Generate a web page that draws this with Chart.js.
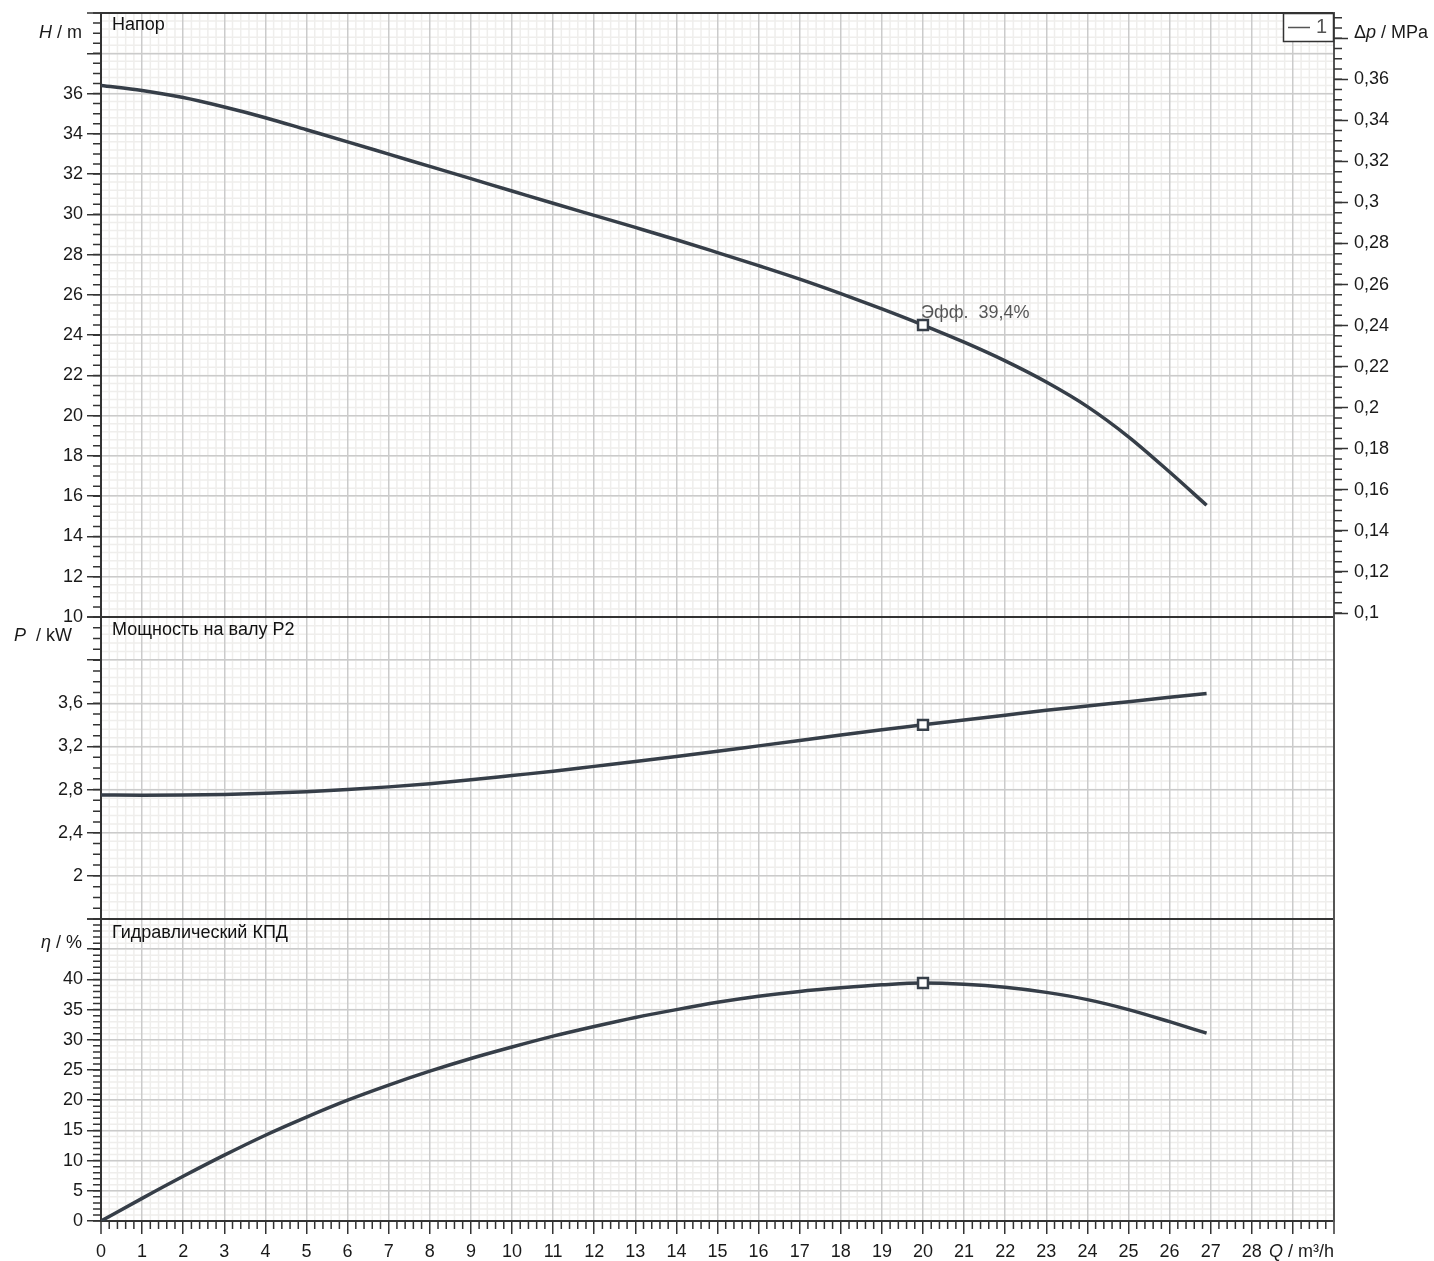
<!DOCTYPE html>
<html><head><meta charset="utf-8">
<script src="https://cdn.jsdelivr.net/npm/chart.js@4.4.0/dist/chart.umd.min.js"></script>
<style>html,body{margin:0;padding:0;background:#fff}#wrap{position:relative;width:1434px;height:1261px}</style>
</head><body><div id="wrap"><canvas id="c"></canvas></div>
<script>
// ---- data ----
const flow       = [0, 1, 2, 3, 4, 5, 6, 7, 8, 9, 10, 11, 12, 13, 14, 15, 16, 17, 18, 19, 20, 21, 22, 23, 24, 25, 26, 26.9];
const head       = [36.4, 36.15, 35.8, 35.33, 34.8, 34.2, 33.6, 32.99, 32.38, 31.77, 31.16, 30.55, 29.95, 29.35, 28.74, 28.1, 27.45, 26.78, 26.06, 25.3, 24.5, 23.65, 22.72, 21.67, 20.45, 18.95, 17.2, 15.55];
const power      = [2.75, 2.748, 2.75, 2.755, 2.765, 2.78, 2.80, 2.825, 2.855, 2.89, 2.93, 2.97, 3.015, 3.06, 3.107, 3.155, 3.205, 3.255, 3.305, 3.355, 3.40, 3.445, 3.49, 3.535, 3.575, 3.615, 3.655, 3.69];
const efficiency = [0, 3.75, 7.4, 10.9, 14.2, 17.2, 20.0, 22.5, 24.8, 26.9, 28.8, 30.6, 32.2, 33.7, 35.0, 36.2, 37.2, 38.0, 38.6, 39.1, 39.4, 39.2, 38.7, 37.85, 36.65, 35.0, 33.0, 31.1];
const dutyFlow = 20;
const dutyLabel = 'Эфф.  39,4%';
const xTickLabels = ['0','1','2','3','4','5','6','7','8','9','10','11','12','13','14','15','16','17','18','19','20','21','22','23','24','25','26','27','28'];
const headTickLabels = ['10','12','14','16','18','20','22','24','26','28','30','32','34','36'];
const powerTickLabels = ['2','2,4','2,8','3,2','3,6'];
const effTickLabels = ['0','5','10','15','20','25','30','35','40'];
const dpTickValues = [0.1,0.12,0.14,0.16,0.18,0.2,0.22,0.24,0.26,0.28,0.3,0.32,0.34,0.36,0.38];
const panelTitles = ['Напор', 'Мощность на валу P2', 'Гидравлический КПД'];
const MPA_PER_M = 0.00980665;

// ---- styling ----
const FONT = '"Liberation Sans", Arial, sans-serif';
const FS = 18;
const CURVE = '#363e48';
const MAJOR = '#cbcbcb';
const MINOR = '#efeeec';
const DARK = '#333333';

function fmt(v){ return String(+v.toFixed(3)).replace('.', ','); }
function near(a,b){ return Math.abs(a-b) < 1e-6; }

const minorSpec = {
  yH: {min:10, max:40, grid:0.4, tick:0.5},
  yP: {min:1.6, max:4.4, grid:0.08, tick:0.1},
  yE: {min:0, max:50, grid:1, tick:1}
};

const decor = {
  id: 'decor',
  beforeDraw(chart){
    const {ctx, chartArea:a, scales} = chart;
    ctx.save();
    ctx.fillStyle = '#fff'; ctx.fillRect(0,0,chart.width,chart.height);
    ctx.strokeStyle = MINOR; ctx.lineWidth = 1.5;
    ctx.beginPath();
    const xs = scales.x;
    for (let n=0; n<=150; n++){ if (n%5===0) continue; const px = xs.getPixelForValue(n*0.2); ctx.moveTo(px,a.top); ctx.lineTo(px,a.bottom); }
    for (const id of Object.keys(minorSpec)){
      const s = scales[id], sp = minorSpec[id];
      const cnt = Math.round((sp.max-sp.min)/sp.grid);
      for (let n=0;n<=cnt;n++){ const py = s.getPixelForValue(sp.min+n*sp.grid); ctx.moveTo(a.left,py); ctx.lineTo(a.right,py); }
    }
    ctx.stroke();
    ctx.restore();
  },
  afterDraw(chart){
    const {ctx, chartArea:a, scales} = chart;
    ctx.save();
    // minor tick marks
    ctx.strokeStyle = DARK; ctx.lineWidth = 1.5;
    ctx.beginPath();
    const xs = scales.x;
    for (let n=0;n<=150;n++){ if (n%5===0) continue; const px = xs.getPixelForValue(n*0.2); ctx.moveTo(px,a.bottom); ctx.lineTo(px,a.bottom+8); }
    for (const id of Object.keys(minorSpec)){
      const s = scales[id], sp = minorSpec[id];
      const cnt = Math.round((sp.max-sp.min)/sp.tick);
      for (let n=0;n<=cnt;n++){ const py = s.getPixelForValue(sp.min+n*sp.tick); ctx.moveTo(a.left-8,py); ctx.lineTo(a.left,py); }
    }
    const d = scales.yD;
    for (let n=20;n<=78;n++){ const v = n*0.005; const py = d.getPixelForValue(v); if (py < a.top-1) break; ctx.moveTo(a.right,py); ctx.lineTo(a.right+8,py); }
    ctx.stroke();

    // text helpers
    function seg(parts, x, y, align, size){
      const fs = size || FS;
      ctx.textBaseline = 'middle';
      let w = 0;
      for (const p of parts){ ctx.font = (p[1]?'italic ':'') + fs + 'px ' + FONT; w += ctx.measureText(p[0]).width; }
      let cx = align==='right' ? x - w : x;
      ctx.textAlign = 'left';
      for (const p of parts){ ctx.font = (p[1]?'italic ':'') + fs + 'px ' + FONT; ctx.fillText(p[0], cx, y); cx += ctx.measureText(p[0]).width; }
    }
    ctx.fillStyle = '#1a1a1a';
    seg([['H',1],[' / m',0]], a.left-19, scales.yH.getPixelForValue(39), 'right');
    seg([['P',1],['  / kW',0]], a.left-29, scales.yP.getPixelForValue(4.22), 'right');
    seg([['η',1],[' / %',0]], a.left-19, scales.yE.getPixelForValue(46.1), 'right');
    seg([['Δ',0],['p',1],[' / MPa',0]], a.right+20, scales.yH.getPixelForValue(39), 'left');
    seg([['Q',1],[' / m³/h',0]], a.right, a.bottom+31, 'right');
    // panel titles
    ctx.fillStyle = '#111';
    seg([[panelTitles[0],0]], a.left+11, scales.yH.getPixelForValue(40)+12, 'left');
    seg([[panelTitles[1],0]], a.left+11, scales.yP.getPixelForValue(4.4)+13, 'left');
    seg([[panelTitles[2],0]], a.left+11, scales.yE.getPixelForValue(50)+14, 'left');
    // duty annotation
    ctx.fillStyle = '#555';
    const hi = flow.indexOf(dutyFlow);
    seg([[dutyLabel,0]], xs.getPixelForValue(dutyFlow) - 2, scales.yH.getPixelForValue(head[hi]) - 12, 'left');
    // legend box
    const lw = 51, lh = 28;
    ctx.fillStyle = '#fff'; ctx.fillRect(a.right-lw, a.top, lw, lh);
    ctx.strokeStyle = DARK; ctx.lineWidth = 1.5;
    ctx.strokeRect(a.right-lw+0.5, a.top+0.5, lw-1, lh);
    ctx.strokeStyle = '#555'; ctx.lineWidth = 1.5;
    ctx.beginPath(); ctx.moveTo(a.right-46, a.top+14.5); ctx.lineTo(a.right-24, a.top+14.5); ctx.stroke();
    ctx.fillStyle = '#555';
    seg([['1',0]], a.right-18, a.top+14.5, 'left', 20);
    ctx.restore();
  }
};

function yScale(opts){
  return Object.assign({
    type:'linear', position:'left', stack:'panels',
    border:{color:DARK, width:2},
    afterFit(s){ s.width = 101; s.paddingTop = 0; s.paddingBottom = 0; }
  }, opts);
}

const ds = (vals, axis) => ({
  label:'1',
  data: flow.map((q,i)=>({x:q, y:vals[i]})),
  yAxisID: axis,
  borderColor: CURVE, borderWidth: 3.5,
  cubicInterpolationMode:'monotone',
  pointStyle:'rect',
  pointRadius: c => (c.raw && c.raw.x === dutyFlow) ? 7 : 0,
  pointBackgroundColor:'#fff', pointBorderColor: CURVE, pointBorderWidth: 2.5,
  pointHoverRadius: 0
});

new Chart(document.getElementById('c'), {
  type:'line',
  data:{ datasets:[ ds(head,'yH'), ds(power,'yP'), ds(efficiency,'yE') ] },
  options:{
    responsive:true, maintainAspectRatio:false, animation:false, events:[],
    layout:{ padding:{ top:13, left:0, right:0, bottom:0 } },
    plugins:{ legend:{display:false}, tooltip:{enabled:false} },
    scales:{
      x:{
        type:'linear', position:'bottom', min:0, max:30,
        border:{color:DARK, width:2},
        grid:{ color: c => (near(c.tick.value,0)||near(c.tick.value,30)) ? DARK : MAJOR, lineWidth: c => (near(c.tick.value,0)||near(c.tick.value,30)) ? 2 : 1.5, tickColor:DARK, tickLength:13, tickWidth:1.5 },
        ticks:{ stepSize:1, autoSkip:false, maxRotation:0, padding:7, color:'#1a1a1a', font:{family:FONT, size:FS}, callback: v => xTickLabels[v] !== undefined && Number.isInteger(v) ? xTickLabels[v] : '' },
        afterFit(s){ s.height = 40; s.paddingLeft = 0; s.paddingRight = 0; }
      },
      yE: yScale({ weight:1, stackWeight:1, min:0, max:50,
        grid:{ color: c => near(c.tick.value,50) ? DARK : MAJOR, lineWidth: c => near(c.tick.value,50) ? 2 : 1.5, tickColor:DARK, tickLength:14, tickWidth:1.5 },
        ticks:{ stepSize:5, autoSkip:false, padding:4, color:'#1a1a1a', font:{family:FONT, size:FS}, callback: v => { const i = effTickLabels.indexOf(fmt(v)); return i>=0 ? effTickLabels[i] : ''; } } }),
      yP: yScale({ weight:2, stackWeight:1, min:1.6, max:4.4,
        grid:{ color: c => (near(c.tick.value,4.4)||near(c.tick.value,1.6)) ? DARK : MAJOR, lineWidth: c => (near(c.tick.value,4.4)||near(c.tick.value,1.6)) ? 2 : 1.5, tickColor:DARK, tickLength:14, tickWidth:1.5 },
        ticks:{ stepSize:0.4, autoSkip:false, padding:4, color:'#1a1a1a', font:{family:FONT, size:FS}, callback: v => { const i = powerTickLabels.indexOf(fmt(v)); return i>=0 ? powerTickLabels[i] : ''; } } }),
      yH: yScale({ weight:3, stackWeight:2, min:10, max:40,
        grid:{ color: c => (near(c.tick.value,40)||near(c.tick.value,10)) ? DARK : MAJOR, lineWidth: c => (near(c.tick.value,40)||near(c.tick.value,10)) ? 2 : 1.5, tickColor:DARK, tickLength:14, tickWidth:1.5 },
        ticks:{ stepSize:2, autoSkip:false, padding:4, color:'#1a1a1a', font:{family:FONT, size:FS}, callback: v => { const i = headTickLabels.indexOf(fmt(v)); return i>=0 ? headTickLabels[i] : ''; } } }),
      yD:{
        type:'linear', position:'right', min:-20*MPA_PER_M, max:40*MPA_PER_M,
        border:{color:'#555', width:2},
        grid:{ drawOnChartArea:false, tickColor:DARK, tickLength:14, tickWidth:1.5 },
        afterBuildTicks(s){ s.ticks = dpTickValues.map(v => ({value:v})); },
        ticks:{ autoSkip:false, padding:6, color:'#1a1a1a', font:{family:FONT, size:FS}, callback: v => v > 0.37 ? '' : fmt(v) },
        afterFit(s){ s.width = 100; s.paddingTop = 0; s.paddingBottom = 0; }
      }
    }
  },
  plugins:[decor]
});
</script></body></html>
